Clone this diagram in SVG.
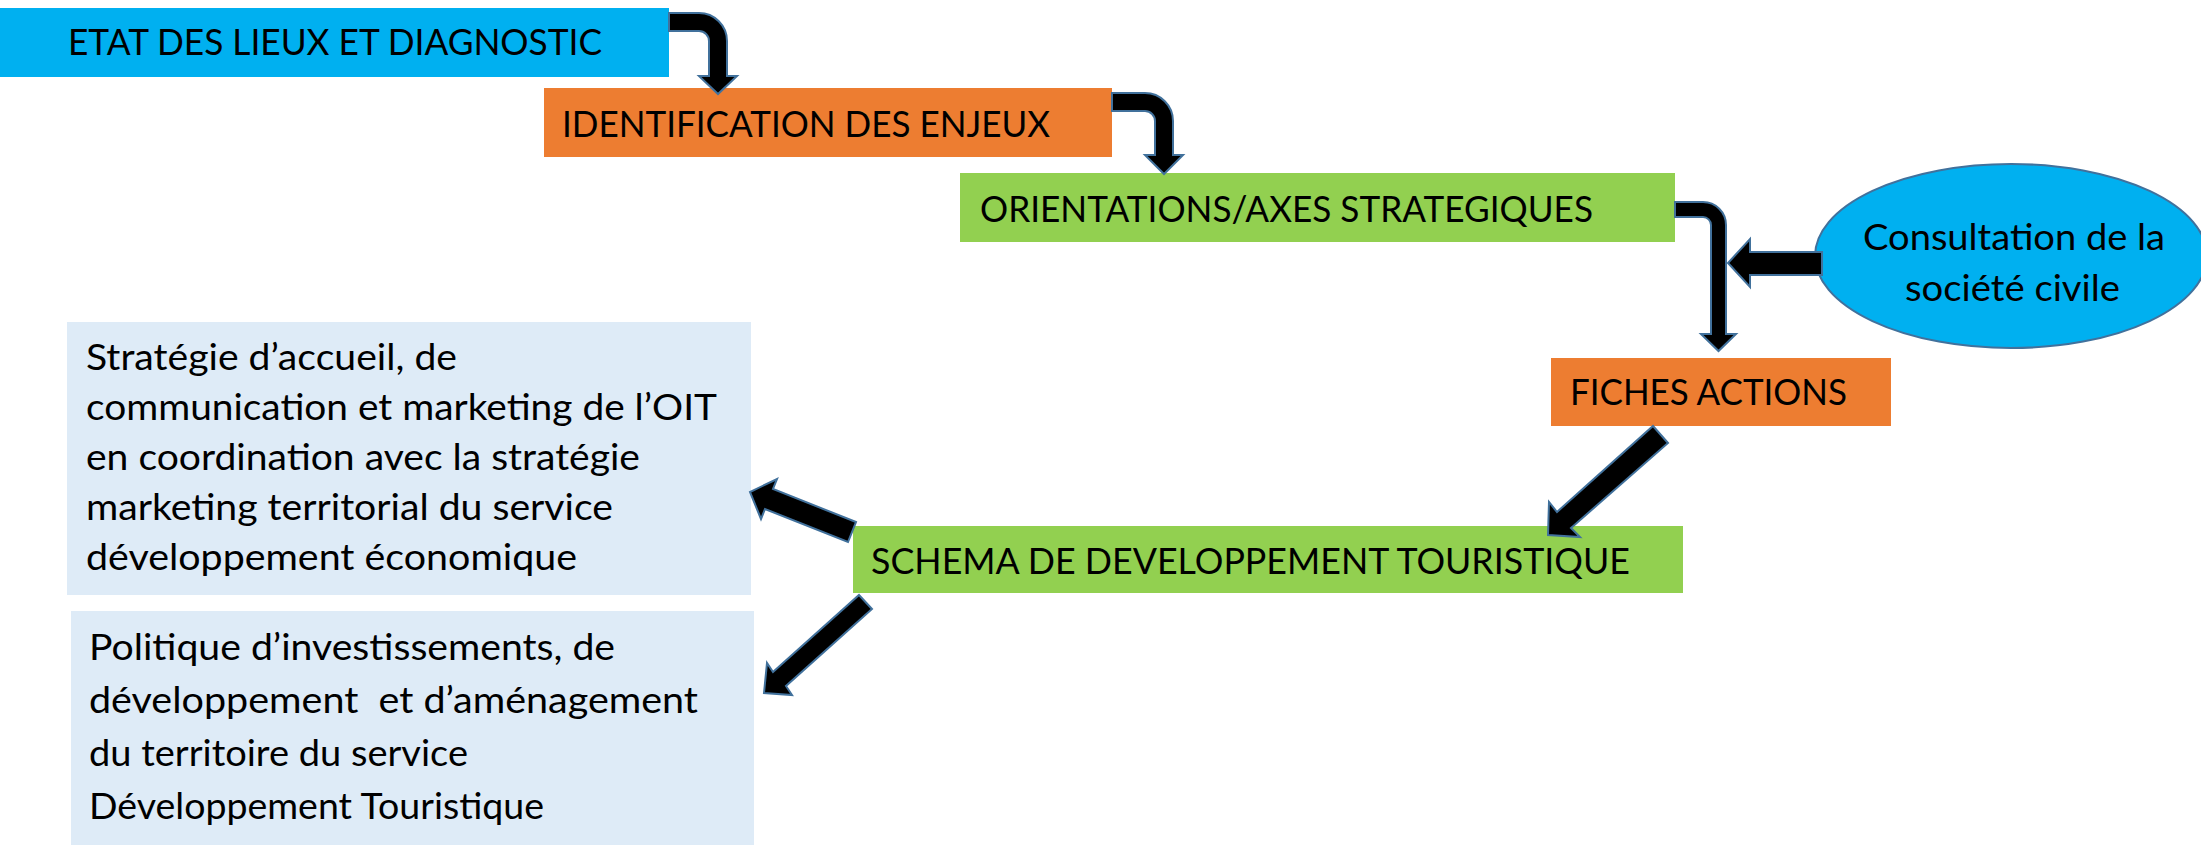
<svg xmlns="http://www.w3.org/2000/svg" width="2201" height="845" viewBox="0 0 2201 845">
<style>
.t{font-family:Lato,"Open Sans","Liberation Sans",sans-serif;font-size:37px;fill:#000}
.arr{fill:#000;stroke:#41719C;stroke-width:2;stroke-linejoin:miter}
.blue{fill:#00B0F0}
.orange{fill:#ED7D31}
.green{fill:#92D050}
.pale{fill:#DEEBF7}
</style>
<rect width="2201" height="845" fill="#fff"/>
<g id="etat">
<rect class="blue" x="0" y="8" width="669" height="69"/>
<text class="t" x="68" y="55" textLength="534" lengthAdjust="spacingAndGlyphs">ETAT DES LIEUX ET DIAGNOSTIC</text>
</g>
<g id="enjeux">
<rect class="orange" x="544" y="88" width="568" height="69"/>
<text class="t" x="562" y="137" textLength="488" lengthAdjust="spacingAndGlyphs">IDENTIFICATION DES ENJEUX</text>
</g>
<g id="orientations">
<rect class="green" x="960" y="173" width="715" height="69"/>
<text class="t" x="980" y="222" textLength="613" lengthAdjust="spacingAndGlyphs">ORIENTATIONS/AXES STRATEGIQUES</text>
</g>
<g id="consultation">
<ellipse cx="2011" cy="256" rx="196" ry="92" fill="#00B0F0" stroke="#41719C" stroke-width="2"/>
<text class="t" x="1863" y="250" textLength="302" lengthAdjust="spacingAndGlyphs">Consultation de la</text>
<text class="t" x="1905" y="301" textLength="215" lengthAdjust="spacingAndGlyphs">société civile</text>
</g>
<g id="fiches">
<rect class="orange" x="1551" y="358" width="340" height="68"/>
<text class="t" x="1570" y="405" textLength="277" lengthAdjust="spacingAndGlyphs">FICHES ACTIONS</text>
</g>
<g id="schema">
<rect class="green" x="853" y="526" width="830" height="67"/>
<text class="t" x="871" y="574" textLength="759" lengthAdjust="spacingAndGlyphs">SCHEMA DE DEVELOPPEMENT TOURISTIQUE</text>
</g>
<g id="strategie">
<rect class="pale" x="67" y="322" width="684" height="273"/>
<text class="t" x="86" y="370" textLength="371" lengthAdjust="spacingAndGlyphs">Stratégie d’accueil, de</text>
<text class="t" x="86" y="420" textLength="631" lengthAdjust="spacingAndGlyphs">communication et marketing de l’OIT</text>
<text class="t" x="86" y="470" textLength="554" lengthAdjust="spacingAndGlyphs">en coordination avec la stratégie</text>
<text class="t" x="86" y="520" textLength="527" lengthAdjust="spacingAndGlyphs">marketing territorial du service</text>
<text class="t" x="86" y="570" textLength="491" lengthAdjust="spacingAndGlyphs">développement économique</text>
</g>
<g id="politique">
<rect class="pale" x="71" y="611" width="683" height="234"/>
<text class="t" x="89" y="660" textLength="526" lengthAdjust="spacingAndGlyphs">Politique d’investissements, de</text>
<text class="t" x="89" y="713" textLength="609" lengthAdjust="spacingAndGlyphs" xml:space="preserve">développement  et d’aménagement</text>
<text class="t" x="89" y="766" textLength="379" lengthAdjust="spacingAndGlyphs">du territoire du service</text>
<text class="t" x="89" y="819" textLength="455" lengthAdjust="spacingAndGlyphs">Développement Touristique</text>
</g>
<g id="connectors">
<path class="arr" d="M669,13 H699 A28,28 0 0 1 727,41 V76 H737 L718,94 L699,76 H709 V41 A10,10 0 0 0 699,31 H669 Z"/>
<path class="arr" d="M1112,93 H1145 A28,28 0 0 1 1173,121 V155 H1183 L1164,174 L1145,155 H1155 V121 A10,10 0 0 0 1145,111 H1112 Z"/>
<path class="arr" d="M1675,202 H1703 A23,23 0 0 1 1726,225 V334 H1736 L1718.5,351 L1701,334 H1711 V225 A8,8 0 0 0 1703,217 H1675 Z"/>
<path class="arr" d="M1822,252 H1750 V239 L1728,263 L1750,287 V275 H1822 Z"/>
<path class="arr" d="M1653,426 L1668,443 L1571,528 L1580,537 L1548,535 L1549,502 L1557,512 Z"/>
<path class="arr" d="M856,522 L773,489 L777,479 L750,492 L761,519 L765,509 L848,542 Z"/>
<path class="arr" d="M859,595 L872,609 L786,686 L792,695 L764,693 L767,663 L773,672 Z"/>
</g>
</svg>
